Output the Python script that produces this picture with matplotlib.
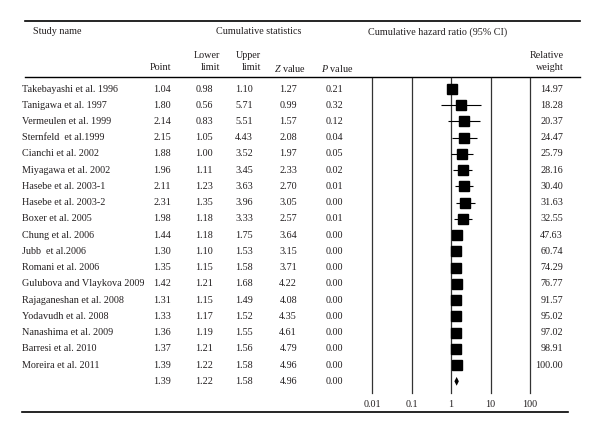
import matplotlib
matplotlib.use("Agg")
import matplotlib.pyplot as plt

plt.rcParams['font.family'] = ['Liberation Serif', 'DejaVu Serif']
plt.rcParams['mathtext.fontset'] = 'custom'
plt.rcParams['mathtext.rm'] = 'Liberation Serif'
plt.rcParams['mathtext.it'] = 'Liberation Serif:italic'

studies = ["Takebayashi et al. 1996", "Tanigawa et al. 1997", "Vermeulen et al. 1999",
           "Sternfeld  et al.1999", "Cianchi et al. 2002", "Miyagawa et al. 2002",
           "Hasebe et al. 2003-1", "Hasebe et al. 2003-2", "Boxer et al. 2005",
           "Chung et al. 2006", "Jubb  et al.2006", "Romani et al. 2006",
           "Gulubova and Vlaykova 2009", "Rajaganeshan et al. 2008", "Yodavudh et al. 2008",
           "Nanashima et al. 2009", "Barresi et al. 2010", "Moreira et al. 2011"]
point = [1.04, 1.80, 2.14, 2.15, 1.88, 1.96, 2.11, 2.31, 1.98, 1.44, 1.30, 1.35,
         1.42, 1.31, 1.33, 1.36, 1.37, 1.39]
lower = [0.98, 0.56, 0.83, 1.05, 1.00, 1.11, 1.23, 1.35, 1.18, 1.18, 1.10, 1.15,
         1.21, 1.15, 1.17, 1.19, 1.21, 1.22]
upper = [1.10, 5.71, 5.51, 4.43, 3.52, 3.45, 3.63, 3.96, 3.33, 1.75, 1.53, 1.58,
         1.68, 1.49, 1.52, 1.55, 1.56, 1.58]
zval = [1.27, 0.99, 1.57, 2.08, 1.97, 2.33, 2.70, 3.05, 2.57, 3.64, 3.15, 3.71,
        4.22, 4.08, 4.35, 4.61, 4.79, 4.96]
pval = [0.21, 0.32, 0.12, 0.04, 0.05, 0.02, 0.01, 0.00, 0.01, 0.00, 0.00, 0.00,
        0.00, 0.00, 0.00, 0.00, 0.00, 0.00]
weight = [14.97, 18.28, 20.37, 24.47, 25.79, 28.16, 30.40, 31.63, 32.55, 47.63,
          60.74, 74.29, 76.77, 91.57, 95.02, 97.02, 98.91, 100.00]
summary = [1.39, 1.22, 1.58, 4.96, 0.00]
tick_vals = [0.01, 0.1, 1, 10, 100]
tick_labels = ["0.01", "0.1", "1", "10", "100"]

W, H = 600, 433
col = '#231f20'
fs = 7.3

fig = plt.figure(figsize=(6, 4.33), dpi=100)

# text layer in pixel coordinates
tx = fig.add_axes([0, 0, 1, 1])
tx.set_xlim(0, W)
tx.set_ylim(H, 0)
tx.axis('off')

y0, dy = 89, 16.24


def row_y(i):
    return y0 + dy * i


# rules
tx.plot([25, 580], [20.5, 20.5], color='black', lw=1.2)
tx.plot([25, 580], [76.5, 76.5], color='black', lw=1.0)
tx.plot([22, 568], [412, 412], color='black', lw=1.2)

# headers
kw = dict(fontsize=fs, color=col, va='center')
tx.text(33, 32, "Study name", ha='left', **kw)
tx.text(259, 32, "Cumulative statistics", ha='center', **kw)
tx.text(438, 32, "Cumulative hazard ratio (95% CI)", ha='center', **kw)
tx.text(207, 55, "Lower", ha='center', **kw)
tx.text(248, 55, "Upper", ha='center', **kw)
tx.text(564, 55, "Relative", ha='right', **kw)
tx.text(171, 68, "Point", ha='right', **kw)
tx.text(210, 68, "limit", ha='center', **kw)
tx.text(251, 68, "limit", ha='center', **kw)
tx.text(290, 68, "$Z$ value", ha='center', **kw)
tx.text(337, 68, "$P$ value", ha='center', **kw)
tx.text(564, 68, "weight", ha='right', **kw)

# table rows
for i, name in enumerate(studies):
    y = row_y(i)
    tx.text(22, y, name, ha='left', **kw)
    tx.text(171, y, f"{point[i]:.2f}", ha='right', **kw)
    tx.text(213, y, f"{lower[i]:.2f}", ha='right', **kw)
    tx.text(253, y, f"{upper[i]:.2f}", ha='right', **kw)
    tx.text(297, y, f"{zval[i]:.2f}", ha='right', **kw)
    tx.text(343, y, f"{pval[i]:.2f}", ha='right', **kw)
    tx.text(563, y, f"{weight[i]:.2f}", ha='right', **kw)

ys = row_y(len(studies))
for xr, v in zip([171, 213, 253, 297, 343], summary):
    tx.text(xr, ys, f"{v:.2f}", ha='right', **kw)

# forest plot
top_px, bot_px = 78, 393
left_px, right_px = 372, 530
ax = fig.add_axes([left_px / W, (H - bot_px) / H, (right_px - left_px) / W, (bot_px - top_px) / H])
ax.patch.set_alpha(0)
ax.set_xscale('log')
ax.set_xlim(0.01, 100)
ax.set_ylim((bot_px - y0) / dy, (top_px - y0) / dy)
for s in ax.spines.values():
    s.set_visible(False)
for v in tick_vals:
    ax.axvline(v, color='#333333', lw=0.9, clip_on=False, zorder=1)

rows = list(range(len(studies)))
ax.hlines(rows, lower, upper, color='black', lw=0.8, zorder=2)
ax.plot(point, rows, 's', color='black', markersize=7.6, zorder=3)

# summary diamond
r = len(studies)
ax.fill([summary[1], summary[0], summary[2], summary[0]],
        [r, r - 0.27, r, r + 0.27], color='black', lw=0, zorder=3)

ax.set_xticks(tick_vals)
ax.set_xticklabels(tick_labels, fontsize=fs, color=col)
ax.xaxis.set_minor_locator(matplotlib.ticker.NullLocator())
ax.tick_params(axis='x', length=0, pad=5)
ax.set_yticks([])

fig.savefig("out.png", dpi=100)
